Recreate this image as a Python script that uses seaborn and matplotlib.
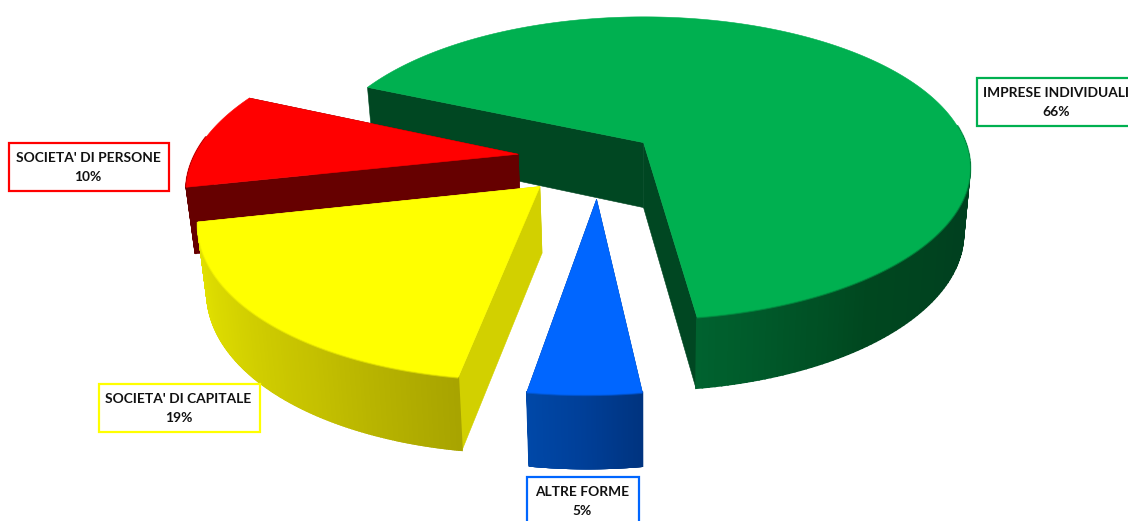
#!/usr/bin/env python3
"""Exploded 3D pie chart: imprese by legal form."""

import numpy as np
import matplotlib
matplotlib.use('Agg')
import matplotlib.pyplot as plt
from matplotlib.patches import Rectangle
import seaborn as sns

# Data, in drawing order starting from the front of the pie
categories = ['IMPRESE INDIVIDUALI', "SOCIETA' DI PERSONE", "SOCIETA' DI CAPITALE", 'ALTRE FORME']
shares = [66.2, 10.0, 19.2, 4.6]

# Slice styles
top_colors = ['#00b050', '#ff0000', '#ffff00', '#0066ff']
inner_colors = ['#004722', '#660000', '#d2d000', '#003a8c']
wall_colors = [
    ['#00622f', '#00471f', '#00401f', '#00401f'],
    ['#660000', '#660000'],
    ['#e6e600', '#d8d600', '#c4c000', '#a8a400'],
    ['#0048a8', '#003f98', '#003480'],
]
border_colors = ['#00b050', '#ff0000', '#ffff00', '#0066ff']
explode = [0.17, 0.25, 0.25, 0.26]
radius = [1.0, 0.99, 0.985, 0.97]
label_boxes = [(977, 78, 160, 48), (9, 143, 160, 48), (99, 384, 161, 48), (527, 477, 112, 60)]

# Perspective camera, in pixels
START_ANGLE = 8.0
CENTER = np.array([-0.14, 0.10])
CX, CY = 645, 143
RX, RY = 322, 147
PERSPECTIVE = 0.168
DEPTH = 65
BOTTOM_SHRINK = 0.98
FRONT_LIMIT = -0.12


def project(x, y, bottom=False):
    """Disk coordinates to screen pixels, top face or bottom face"""
    s = 1 / (1 - PERSPECTIVE * y)
    sx = RX * x * s
    sy = CY + RY * y * s
    if bottom:
        return CX + sx * BOTTOM_SHRINK, sy + DEPTH * np.sqrt(s)
    return CX + sx, sy


def draw_slice(ax, theta0, theta1, offset, r, top, inner, wall):
    theta = np.radians(np.linspace(theta0, theta1, 240))
    mid = np.radians((theta0 + theta1) / 2)
    apex = CENTER + offset * np.array([np.sin(mid), np.cos(mid)])
    xs = apex[0] + r * np.sin(theta)
    ys = apex[1] + r * np.cos(theta)

    # Cut faces
    for edge in (0, -1):
        ex, ey = np.array([apex[0], xs[edge]]), np.array([apex[1], ys[edge]])
        ux, uy = project(ex, ey)
        lx, ly = project(ex, ey, bottom=True)
        ax.fill(np.r_[ux, lx[::-1]], np.r_[uy, ly[::-1]], color=inner, lw=0.4, zorder=1)

    # Only the part of the rim turned to the viewer gets drawn
    front = np.cos(theta) > FRONT_LIMIT
    tx, ty = project(xs[front], ys[front])
    bx, by = project(xs[front], ys[front], bottom=True)
    shades = sns.blend_palette(wall, max(len(tx) - 1, 1))
    for i in range(len(tx) - 1):
        ax.fill([tx[i], tx[i + 1], bx[i + 1], bx[i]], [ty[i], ty[i + 1], by[i + 1], by[i]],
                color=shades[i], lw=1.2, zorder=1)

    # Top face, with a soft lighter line along the front edge
    px, py = project(xs, ys)
    ax0, ay0 = project(apex[0], apex[1])
    ax.fill(np.r_[ax0, px], np.r_[ay0, py], color=top, lw=0.4, zorder=2)
    ax.plot(tx, ty, color=top, lw=2, alpha=0.5, zorder=2, solid_capstyle='butt')


def main():
    sns.set_theme(style='white')
    plt.rcParams['font.family'] = ['Lato', 'DejaVu Sans']

    fig = plt.figure(figsize=(11.28, 5.21), dpi=100)
    ax = fig.add_axes([0, 0, 1, 1])
    ax.set_xlim(0, 1128)
    ax.set_ylim(521, 0)
    ax.axis('off')

    edges = START_ANGLE + np.r_[0, np.cumsum(shares)] * 3.6
    for i in range(len(shares)):
        draw_slice(ax, edges[i], edges[i + 1], explode[i], radius[i],
                   top_colors[i], inner_colors[i], wall_colors[i])

    for name, share, box, edge in zip(categories, shares, label_boxes, border_colors):
        x, y, w, h = box
        ax.add_patch(Rectangle((x, y), w, h, fc='white', ec=edge, lw=1.6, zorder=5))
        ax.text(x + w / 2 - 1, y + 15, name, ha='center', va='center', fontsize=9.9,
                fontweight='bold', color='#111111', zorder=6)
        ax.text(x + w / 2 - 1, y + 34, f'{share:.0f}%', ha='center', va='center', fontsize=9.9,
                fontweight='bold', color='#111111', zorder=6)

    fig.savefig('out.png', dpi=100, facecolor='white')


if __name__ == '__main__':
    main()
